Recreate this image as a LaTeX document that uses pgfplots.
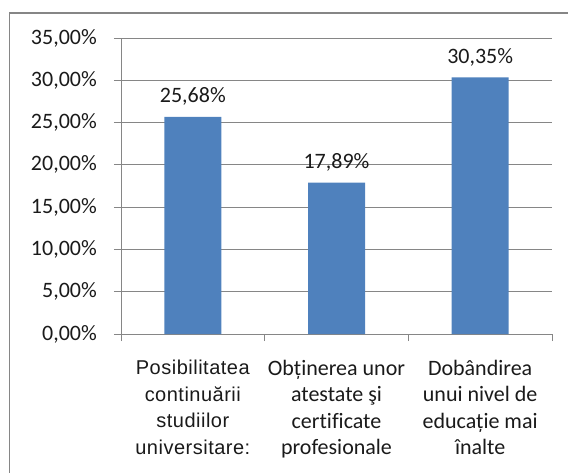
\documentclass[border=0pt]{standalone}
\usepackage{fontspec}
\setmainfont[Ligatures=NoCommon]{Carlito}
\newfontfamily\arialfont[LetterSpace=2.5]{Liberation Sans}
\newcommand\A{\arialfont\fontsize{20}{26.5}\selectfont}
\usepackage{pgfplots}
\pgfplotsset{compat=1.18}
\definecolor{barblue}{HTML}{4F81BD}
\definecolor{gridgray}{HTML}{868686}
\definecolor{txt}{HTML}{1A1A1A}
\begin{document}
\begin{tikzpicture}[x=1pt,y=1pt]
\useasboundingbox (0,0) rectangle (568,472);
\draw[color=gridgray, line width=1.5pt] (9.5,-5) -- (9.5,459) -- (575,459);
\begin{axis}[
  at={(121pt,138pt)}, anchor=south west, scale only axis,
  width=431pt, height=296pt,
  xmin=-0.5, xmax=2.5, ymin=0, ymax=35,
  ybar, bar width=57pt,
  axis x line*=bottom, axis y line*=left,
  axis line style={draw=gridgray, line width=0.9pt, -},
  ymajorgrids, major grid style={draw=gridgray, line width=0.9pt},
  ytick={0,5,10,15,20,25,30,35},
  yticklabels={{0,00\%},{5,00\%},{10,00\%},{15,00\%},{20,00\%},{25,00\%},{30,00\%},{35,00\%}},
  xtick={0,1,2},
  xticklabels={{\A Posibilitatea\\\A continuării\\\A studiilor\\\A universitare:},
               {Obținerea unor\\atestate şi\\certificate\\profesionale},
               {Dobândirea\\unui nivel de\\educație mai\\înalte}},
  minor xtick={-0.5,0.5,1.5,2.5},
  tick align=outside,
  major tick length=7pt, minor tick length=7pt,
  x tick style={draw=none},
  minor x tick style={draw=gridgray, line width=0.9pt},
  y tick style={draw=gridgray, line width=0.9pt},
  tick label style={font=\fontsize{22}{26.5}\selectfont, text=txt},
  yticklabel style={anchor=east, inner sep=0pt, xshift=-17pt},
  xticklabel style={anchor=north, align=center, inner sep=0pt, yshift=-19pt},
  clip=false,
  nodes near coords={\pgfmathprintnumber[use comma,fixed,fixed zerofill,precision=2,assume math mode=true]{\pgfplotspointmeta}\%},
  nodes near coords style={anchor=base, inner sep=0pt, yshift=14pt, font=\fontsize{22}{26.5}\selectfont, text=txt},
]
\addplot[fill=barblue, draw=none] coordinates {(0,25.68) (1,17.89) (2,30.35)};
\end{axis}
\end{tikzpicture}
\end{document}
